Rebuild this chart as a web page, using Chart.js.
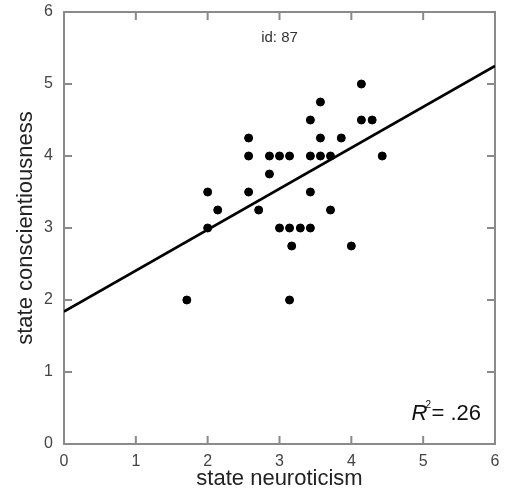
<!DOCTYPE html>
<html>
<head>
<meta charset="utf-8">
<script src="https://cdn.jsdelivr.net/npm/chart.js@4/dist/chart.umd.min.js"></script>
<style>
  html, body { margin: 0; padding: 0; background: #fff; }
  canvas { display: block; }
</style>
</head>
<body>
<canvas id="chart" width="506" height="494"></canvas>
<script>
  // state neuroticism (x) vs state conscientiousness (y), id 87
  const neuroticism = [
    4.14, 3.57, 3.43, 4.14, 4.29, 2.57, 3.57, 3.86,
    2.57, 2.86, 3.0, 3.14, 3.43, 3.57, 3.71, 4.43,
    2.86, 2.0, 2.57, 3.43, 2.14, 2.71, 3.71,
    2.0, 3.0, 3.14, 3.29, 3.43, 3.17, 4.0, 1.71, 3.14
  ];
  const conscientiousness = [
    5.0, 4.75, 4.5, 4.5, 4.5, 4.25, 4.25, 4.25,
    4.0, 4.0, 4.0, 4.0, 4.0, 4.0, 4.0, 4.0,
    3.75, 3.5, 3.5, 3.5, 3.25, 3.25, 3.25,
    3.0, 3.0, 3.0, 3.0, 3.0, 2.75, 2.75, 2.0, 2.0
  ];
  // fitted regression line
  const fitX = [0, 6];
  const fitY = [1.84, 5.25];
  const tickValues = [0, 1, 2, 3, 4, 5, 6];
  const idLabel = 'id: 87';
  const r2Label = '= .26';

  const font = '"Liberation Sans", Arial, Helvetica, sans-serif';

  const points = neuroticism.map((v, i) => ({ x: v, y: conscientiousness[i] }));
  const fitLine = fitX.map((v, i) => ({ x: v, y: fitY[i] }));

  const frame = {
    id: 'frame',
    beforeDatasetsDraw(chart) {
      const { ctx, chartArea: a, scales: { x, y } } = chart;
      ctx.save();
      ctx.strokeStyle = '#8a8a8a';
      ctx.lineWidth = 2;
      ctx.strokeRect(a.left, a.top, a.right - a.left, a.bottom - a.top);
      ctx.beginPath();
      tickValues.forEach(v => {
        const px = x.getPixelForValue(v);
        ctx.moveTo(px, a.bottom); ctx.lineTo(px, a.bottom - 8);
        ctx.moveTo(px, a.top); ctx.lineTo(px, a.top + 8);
        const py = y.getPixelForValue(v);
        ctx.moveTo(a.left, py); ctx.lineTo(a.left + 8, py);
        ctx.moveTo(a.right, py); ctx.lineTo(a.right - 8, py);
      });
      ctx.stroke();
      ctx.restore();
    },
    afterDraw(chart) {
      const { ctx, chartArea: a, scales: { x } } = chart;
      ctx.save();
      ctx.fillStyle = '#333';
      ctx.font = '15px ' + font;
      ctx.textAlign = 'center';
      ctx.textBaseline = 'middle';
      ctx.fillText(idLabel, x.getPixelForValue(3), a.top + 26);

      // R² = .26, right aligned near the bottom right corner
      ctx.fillStyle = '#111';
      ctx.textBaseline = 'alphabetic';
      ctx.textAlign = 'left';
      ctx.font = '22px ' + font;
      const restW = ctx.measureText(r2Label).width;
      const right = a.right - 14;
      const base = 420;
      const start = right - restW - 20;
      ctx.font = 'italic 22px ' + font;
      ctx.fillText('R', start, base);
      ctx.font = '10px ' + font;
      ctx.fillText('2', start + 14, base - 12);
      ctx.font = '22px ' + font;
      ctx.fillText(r2Label, start + 20, base);
      ctx.restore();
    }
  };

  new Chart(document.getElementById('chart'), {
    type: 'scatter',
    data: {
      datasets: [
        {
          data: points,
          backgroundColor: '#000',
          borderColor: '#000',
          pointRadius: 4,
          pointHoverRadius: 4
        },
        {
          type: 'line',
          data: fitLine,
          borderColor: '#000',
          borderWidth: 2.6,
          pointRadius: 0,
          fill: false
        }
      ]
    },
    options: {
      responsive: false,
      animation: false,
      layout: { padding: { top: 12, right: 11, left: 0, bottom: 0 } },
      plugins: { legend: { display: false }, tooltip: { enabled: false } },
      scales: {
        x: {
          type: 'linear',
          min: 0,
          max: 6,
          afterFit(scale) {
            scale.height = 50;
            scale.paddingLeft = 0;
            scale.paddingRight = 0;
          },
          border: { display: false },
          grid: { display: false, drawTicks: false },
          ticks: { stepSize: 1, padding: 8, color: '#444', font: { family: font, size: 16 } },
          title: {
            display: true,
            text: 'state neuroticism',
            color: '#222',
            font: { family: font, size: 22 },
            padding: { top: 0, bottom: 2 }
          }
        },
        y: {
          type: 'linear',
          min: 0,
          max: 6,
          afterFit(scale) {
            scale.width = 64;
            scale.paddingTop = 0;
            scale.paddingBottom = 0;
          },
          border: { display: false },
          grid: { display: false, drawTicks: false },
          ticks: { stepSize: 1, padding: 11, color: '#444', font: { family: font, size: 16 } },
          title: {
            display: true,
            text: 'state conscientiousness',
            color: '#222',
            font: { family: font, size: 22 },
            padding: { top: 13, bottom: 0 }
          }
        }
      }
    },
    plugins: [frame]
  });
</script>
</body>
</html>
